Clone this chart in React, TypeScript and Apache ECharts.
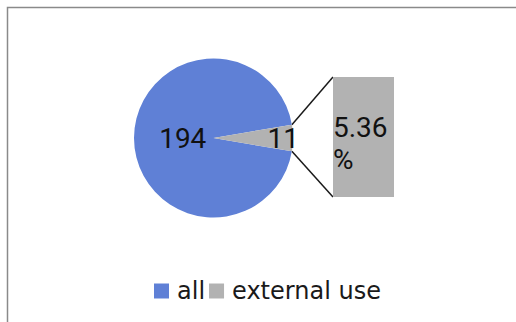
import React, { useEffect, useRef } from "react";
import * as echarts from "echarts";

const categories = ["all", "external use"];
const pieValues = [194, 11];
const barPercent = [5.36];
const colors = ["#5f80d6", "#b2b2b2"];

export default function App() {
  const ref = useRef<HTMLDivElement>(null);
  useEffect(() => {
    if (!ref.current) return;
    const chart = echarts.init(ref.current, null, { renderer: "svg" });
    const cx = 213.5, cy = 138, r = 79.5;
    const total = pieValues.reduce((a, b) => a + b, 0);
    const half = (pieValues[1] / total) * 180;
    const barLeft = 333, barTop = 77, barW = 61, barH = 120;
    const rad = (half * Math.PI) / 180;
    const px = cx + r * Math.cos(rad);
    const pyTop = cy - r * Math.sin(rad);
    const pyBot = cy + r * Math.sin(rad);
    const font = "Roboto";
    chart.setOption({
      animation: false,
      color: colors,
      legend: {
        data: categories,
        left: 149,
        top: 274,
        icon: "rect",
        itemWidth: 15,
        itemHeight: 15,
        itemGap: 4,
        textStyle: { fontFamily: "DejaVu Sans", fontSize: 24, color: "#1a1a1a", padding: [0, 0, 0, 3] },
      },
      grid: { left: barLeft, top: barTop, width: barW, height: barH },
      xAxis: { type: "category", data: [""], show: false },
      yAxis: { type: "value", min: 0, max: barPercent[0], show: false },
      series: [
        {
          type: "pie",
          center: [cx, cy],
          radius: r,
          startAngle: 360 - half,
          clockwise: true,
          silent: true,
          labelLine: { show: false },
          label: {
            show: true,
            position: "inside",
            formatter: "{c}",
            fontFamily: font,
            fontSize: 28,
            color: "#111",
          },
          data: categories.map((c, i) => ({
            name: c,
            value: pieValues[i],
            label: { padding: i === 0 ? [0, 0, 0, 24] : [0, 0, 0, 54] },
          })),
        },
        {
          type: "bar",
          barWidth: "100%",
          silent: true,
          itemStyle: { color: colors[1] },
          label: {
            show: true,
            position: "insideLeft",
            distance: 0,
            offset: [0, 6],
            fontFamily: font,
            fontSize: 28,
            lineHeight: 32,
            color: "#111",
            formatter: (p: any) => `${p.value.toFixed(2)}\n%`,
          },
          data: barPercent,
        },
      ],
      graphic: [
        {
          type: "rect",
          shape: { x: 7.5, y: 7.5, width: 600, height: 400 },
          style: { fill: "none", stroke: "#8a8a8a", lineWidth: 1.5 },
          silent: true,
        },
        {
          type: "line",
          shape: { x1: px, y1: pyTop, x2: barLeft, y2: barTop },
          style: { stroke: "#1a1a1a", lineWidth: 1.5 },
          silent: true,
        },
        {
          type: "line",
          shape: { x1: px, y1: pyBot, x2: barLeft, y2: barTop + barH },
          style: { stroke: "#1a1a1a", lineWidth: 1.5 },
          silent: true,
        },
      ],
    });
    return () => chart.dispose();
  }, []);
  return (
    <div
      ref={ref}
      style={{ position: "fixed", left: 0, top: 0, width: 516, height: 322, background: "#fff" }}
    />
  );
}
